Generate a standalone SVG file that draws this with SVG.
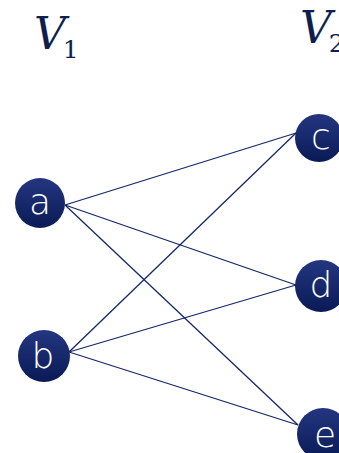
<svg xmlns="http://www.w3.org/2000/svg" width="339" height="453" viewBox="0 0 339 453">
  <style>
    .edge { stroke: #14286a; stroke-width: 1.3; fill: none; }
    .node circle { fill: url(#ball); }
    .node text { fill: #ffffff; font-family: "DejaVu Sans", "Liberation Sans", sans-serif; font-weight: 200; font-size: 36px; text-anchor: middle; }
    .set { fill: #0e1f4f; font-family: "DejaVu Serif", "Liberation Serif", serif; font-style: italic; font-size: 44px; }
    .sub { font-style: normal; font-size: 25px; }
  </style>
  <defs>
    <linearGradient id="ball" x1="0" y1="0" x2="0" y2="1">
      <stop offset="0" stop-color="#243680"/>
      <stop offset="1" stop-color="#0a1a56"/>
    </linearGradient>
  </defs>
  <rect width="339" height="453" fill="#ffffff"/>

  <!-- partition labels -->
  <text class="set" x="34" y="49">V<tspan class="sub" dx="-3" dy="9">1</tspan></text>
  <text class="set" x="300" y="43">V<tspan class="sub" dx="-3" dy="9">2</tspan></text>

  <g id="edges">
    <line class="edge" x1="65" y1="205" x2="296" y2="133"/>
    <line class="edge" x1="65" y1="205" x2="296" y2="285"/>
    <line class="edge" x1="65" y1="205" x2="298" y2="425"/>
    <line class="edge" x1="69" y1="352" x2="296" y2="133"/>
    <line class="edge" x1="69" y1="352" x2="296" y2="285"/>
    <line class="edge" x1="69" y1="352" x2="298" y2="425"/>
  </g>

  <g id="node-a" class="node">
    <circle cx="40" cy="203" r="25"/>
    <text x="40" y="214">a</text>
  </g>
  <g id="node-b" class="node">
    <circle cx="44" cy="356" r="26"/>
    <text x="43" y="368">b</text>
  </g>
  <g id="node-c" class="node">
    <circle cx="319" cy="138" r="24"/>
    <text x="321" y="149">c</text>
  </g>
  <g id="node-d" class="node">
    <circle cx="321" cy="286" r="26"/>
    <text x="321" y="297">d</text>
  </g>
  <g id="node-e" class="node">
    <circle cx="323" cy="434" r="26"/>
    <text x="325" y="447">e</text>
  </g>
</svg>
